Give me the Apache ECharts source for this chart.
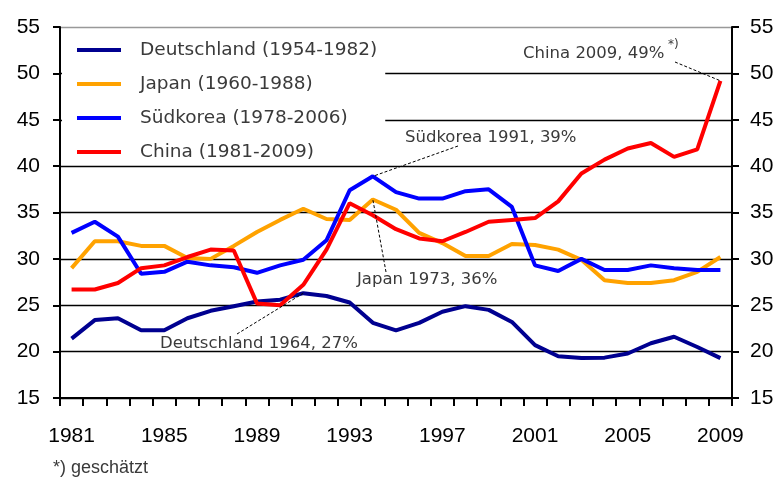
<!DOCTYPE html>
<html>
<head>
<meta charset="utf-8">
<script src="https://cdn.jsdelivr.net/npm/echarts@6/dist/echarts.min.js"></script>
<style>
  html, body { margin: 0; padding: 0; background: #fff; }
  #chart { width: 782px; height: 478px; }
</style>
</head>
<body>
<div id="chart"></div>
<script>
  // Jahre (x-Achse)
  var years = ['1981','1982','1983','1984','1985','1986','1987','1988','1989','1990',
               '1991','1992','1993','1994','1995','1996','1997','1998','1999','2000',
               '2001','2002','2003','2004','2005','2006','2007','2008','2009'];

  // Werte in %
  var deutschland = [21.4, 23.4, 23.6, 22.3, 22.3, 23.6, 24.4, 24.9, 25.4, 25.6,
                     26.3, 26.0, 25.3, 23.1, 22.3, 23.1, 24.3, 24.9, 24.5, 23.2,
                     20.7, 19.5, 19.3, 19.35, 19.8, 20.9, 21.6, 20.5, 19.3];
  var japan = [29.0, 31.9, 31.9, 31.4, 31.4, 30.1, 30.0, 31.4, 32.9, 34.2,
               35.4, 34.3, 34.2, 36.4, 35.3, 32.8, 31.7, 30.3, 30.3, 31.6,
               31.5, 31.0, 29.9, 27.7, 27.4, 27.4, 27.7, 28.6, 30.2];
  var suedkorea = [32.8, 34.0, 32.4, 28.4, 28.6, 29.7, 29.3, 29.1, 28.5, 29.3,
                   29.9, 32.0, 37.4, 38.9, 37.2, 36.5, 36.5, 37.3, 37.5, 35.6,
                   29.3, 28.7, 30.0, 28.8, 28.8, 29.3, 29.0, 28.8, 28.8];
  var china = [26.7, 26.7, 27.4, 29.0, 29.3, 30.2, 31.0, 30.9, 25.2, 25.0,
               27.2, 31.0, 36.0, 34.7, 33.2, 32.2, 31.9, 32.9, 34.0, 34.2,
               34.4, 36.2, 39.2, 40.7, 41.9, 42.5, 41.0, 41.8, 49.2];

  var seriesNames = ['Deutschland (1954-1982)', 'Japan (1960-1988)',
                     'Südkorea (1978-2006)', 'China (1981-2009)'];
  var seriesColors = ['#000090', '#ffa200', '#0000ff', '#ff0000'];
  var seriesData = [deutschland, japan, suedkorea, china];

  var chart = echarts.init(document.getElementById('chart'));

  var gridColors = ['#000', '#000', '#000', '#000', '#000', '#000', '#000', '#000', '#999'];

  function yAxisCfg(pos, margin) {
    return {
      type: 'value',
      position: pos,
      min: 15,
      max: 55,
      interval: 5,
      axisLine: { show: true, lineStyle: { color: '#000', width: 2 } },
      axisTick: { show: true, length: 7, lineStyle: { color: '#000', width: 2 } },
      axisLabel: { color: '#000', fontFamily: 'Liberation Sans', fontSize: 21, margin: margin },
      splitLine: pos === 'left'
        ? { show: true, lineStyle: { color: gridColors, width: 1.3 } }
        : { show: false }
    };
  }

  var option = {
    animation: false,
    grid: { left: 60, right: 50, top: 27, bottom: 80, containLabel: false },
    legend: {
      orient: 'vertical',
      left: 62,
      top: 35,
      padding: [5, 8, 1, 15],
      backgroundColor: '#fff',
      itemWidth: 44,
      itemHeight: 4,
      itemGap: 14,
      icon: 'rect',
      textStyle: { fontFamily: 'DejaVu Sans', fontSize: 18.5, color: '#3a3a3a', lineHeight: 20, padding: [0, 0, 0, 14] },
      data: seriesNames
    },
    xAxis: {
      type: 'category',
      data: years,
      boundaryGap: true,
      axisLine: { show: true, lineStyle: { color: '#000', width: 2 } },
      axisTick: { show: true, interval: 0, length: 8, lineStyle: { color: '#000', width: 2 } },
      axisLabel: { interval: 3, color: '#000', fontFamily: 'Liberation Sans', fontSize: 21, margin: 28 },
      splitLine: { show: false }
    },
    yAxis: [yAxisCfg('left', 20), yAxisCfg('right', 18)],
    series: seriesNames.map(function (name, i) {
      return {
        name: name,
        type: 'line',
        data: seriesData[i],
        yAxisIndex: 0,
        showSymbol: false,
        symbol: 'none',
        color: seriesColors[i],
        lineStyle: { color: seriesColors[i], width: 4 }
      };
    })
  };

  chart.setOption(option);

  // Beschriftungen mit Hinweislinien
  function px(idx, val) {
    return chart.convertToPixel({ xAxisIndex: 0, yAxisIndex: 0 }, [idx, val]);
  }
  var txtColor = '#3a3a3a';
  var pChina = px(28, china[28]);
  var pKorea = px(13, suedkorea[13]);
  var pJapan = px(13, japan[13]);
  var pDeut = px(10, deutschland[10]);

  function leader(x1, y1, p) {
    return { type: 'line', z: 20, shape: { x1: x1, y1: y1, x2: p[0], y2: p[1] },
             style: { stroke: '#000', lineWidth: 1, lineDash: [3, 2] } };
  }
  function label(x, y, text, size, family) {
    return { type: 'text', z: 20, x: x, y: y,
             style: { text: text, font: (size || 16.5) + 'px "' + (family || 'DejaVu Sans') + '"',
                      fill: txtColor, textVerticalAlign: 'middle' } };
  }

  chart.setOption({
    graphic: [
      label(523, 54, 'China 2009, 49%'),
      label(668, 45, '*)', 12),
      leader(675, 62, pChina),
      label(405, 138, 'Südkorea 1991, 39%'),
      leader(458, 146, pKorea),
      label(357, 280, 'Japan 1973, 36%'),
      leader(386, 272, pJapan),
      label(160, 344, 'Deutschland 1964, 27%'),
      leader(237, 334, pDeut),
      label(53, 468, '*) geschätzt', 18, 'Liberation Sans')
    ]
  });
</script>
</body>
</html>
